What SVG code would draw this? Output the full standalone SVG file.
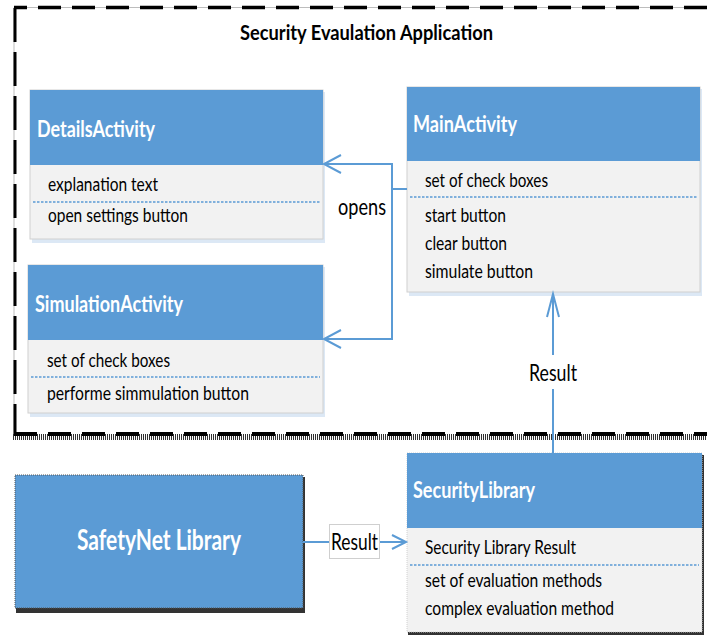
<svg xmlns="http://www.w3.org/2000/svg" width="707" height="635" viewBox="0 0 707 635">
<style>
.t{font-family:Lato,"Liberation Sans",sans-serif;}
.title{font-size:21px;font-weight:bold;fill:#000;}
.hdr{font-size:23.5px;font-weight:bold;fill:#fff;}
.big{font-size:28px;font-weight:bold;fill:#fff;}
.item{font-size:19.5px;fill:#000;}
.lbl{font-size:23px;fill:#000;}
.head{fill:#5B9BD5;}
.body{fill:#F2F2F2;stroke:#D0D0D0;stroke-width:1;}
.shadow{fill:#DCE8F5;}
.dshadow{fill:#333;}
.sep{stroke:#5B9BD5;stroke-width:1.6;stroke-dasharray:2.5 1.5;}
.conn{fill:none;stroke:#5B9BD5;stroke-width:2;}
</style>

<g id="frame">
  <path d="M14 436 L14 7.5 L707 7.5" fill="none" stroke="#bdbdbd" stroke-width="1"/>
  <path d="M707 7.5 L14 7.5" fill="none" stroke="#000" stroke-width="3.5" stroke-dasharray="23 11"/>
  <path d="M15 8 L15 436" fill="none" stroke="#000" stroke-width="3" stroke-dasharray="34 10"/>
  <path d="M13 437 L707 437" fill="none" stroke="#333" stroke-width="6" stroke-dasharray="1 1"/>
  <path d="M14 434 L707 434" fill="none" stroke="#000" stroke-width="4" stroke-dasharray="23 11"/>
  <text class="t title" x="240" y="40" textLength="253" lengthAdjust="spacingAndGlyphs">Security Evaulation Application</text>
</g>

<g id="DetailsActivity">
  <rect class="shadow" x="32" y="92" width="293" height="151"/>
  <rect class="body" x="30" y="90" width="293" height="149"/>
  <rect class="head" x="30" y="90" width="293" height="75"/>
  <text class="t hdr" x="37" y="137" textLength="118" lengthAdjust="spacingAndGlyphs">DetailsActivity</text>
  <text class="t item" x="48" y="191" textLength="110" lengthAdjust="spacingAndGlyphs">explanation text</text>
  <line class="sep" x1="33" y1="202" x2="320" y2="202"/>
  <text class="t item" x="48" y="222" textLength="140" lengthAdjust="spacingAndGlyphs">open settings button</text>
</g>

<g id="SimulationActivity">
  <rect class="shadow" x="30" y="267" width="295" height="150"/>
  <rect class="body" x="28" y="265" width="295" height="148"/>
  <rect class="head" x="28" y="265" width="295" height="75"/>
  <text class="t hdr" x="35" y="312" textLength="148" lengthAdjust="spacingAndGlyphs">SimulationActivity</text>
  <text class="t item" x="47" y="367" textLength="123" lengthAdjust="spacingAndGlyphs">set of check boxes</text>
  <line class="sep" x1="31" y1="377" x2="320" y2="377"/>
  <text class="t item" x="47" y="400" textLength="202" lengthAdjust="spacingAndGlyphs">performe simmulation button</text>
</g>

<g id="MainActivity">
  <rect class="shadow" x="409" y="89" width="293" height="207"/>
  <rect class="body" x="407" y="87" width="293" height="205"/>
  <rect class="head" x="407" y="87" width="293" height="74"/>
  <text class="t hdr" x="413" y="132" textLength="104" lengthAdjust="spacingAndGlyphs">MainActivity</text>
  <text class="t item" x="425" y="187" textLength="123" lengthAdjust="spacingAndGlyphs">set of check boxes</text>
  <line class="sep" x1="410" y1="197" x2="697" y2="197"/>
  <text class="t item" x="425" y="222" textLength="81" lengthAdjust="spacingAndGlyphs">start button</text>
  <text class="t item" x="425" y="250" textLength="82" lengthAdjust="spacingAndGlyphs">clear button</text>
  <text class="t item" x="425" y="278" textLength="108" lengthAdjust="spacingAndGlyphs">simulate button</text>
</g>

<g id="SafetyNetLibrary">
  <rect class="dshadow" x="16" y="477" width="289" height="136"/>
  <rect x="15" y="475" width="288" height="133" fill="#5B9BD5" stroke="#555" stroke-width="1" stroke-dasharray="1 1"/>
  <text class="t big" x="77" y="550" textLength="164" lengthAdjust="spacingAndGlyphs">SafetyNet Library</text>
</g>

<g id="SecurityLibrary">
  <rect class="dshadow" x="408" y="455" width="296" height="180"/>
  <rect class="body" x="407" y="453" width="295" height="179" stroke="#777" stroke-dasharray="1 1"/>
  <rect class="head" x="407" y="453" width="295" height="75"/>
  <text class="t hdr" x="413" y="498" textLength="122" lengthAdjust="spacingAndGlyphs">SecurityLibrary</text>
  <text class="t item" x="425" y="554" textLength="151" lengthAdjust="spacingAndGlyphs">Security Library Result</text>
  <line class="sep" x1="410" y1="565" x2="699" y2="565"/>
  <text class="t item" x="425" y="587" textLength="177" lengthAdjust="spacingAndGlyphs">set of evaluation methods</text>
  <text class="t item" x="425" y="615" textLength="189" lengthAdjust="spacingAndGlyphs">complex evaluation method</text>
</g>

<g id="connectors">
  <path class="conn" d="M407 189 L392 189 M324 164 L392 164 L392 339 L324 339"/>
  <path class="conn" d="M341 155 L324 164 L341 173"/>
  <path class="conn" d="M341 330 L324 339 L341 348"/>
  <text class="t lbl" x="338" y="215" textLength="48" lengthAdjust="spacingAndGlyphs">opens</text>
  <path class="conn" d="M553 453 L553 294"/>
  <path class="conn" d="M547 317 L553 294 L559 317"/>
  <rect x="527" y="355" width="52" height="34" fill="#fff"/>
  <text class="t lbl" x="529" y="381" textLength="48" lengthAdjust="spacingAndGlyphs">Result</text>
  <path class="conn" d="M303 542 L406 542"/>
  <path class="conn" d="M392 535 L406 542 L392 549"/>
  <rect x="329.5" y="524.5" width="50" height="34" fill="#fff" stroke="#cfcfcf" stroke-width="1"/>
  <text class="t lbl" x="331" y="550" textLength="47" lengthAdjust="spacingAndGlyphs">Result</text>
</g>
</svg>
